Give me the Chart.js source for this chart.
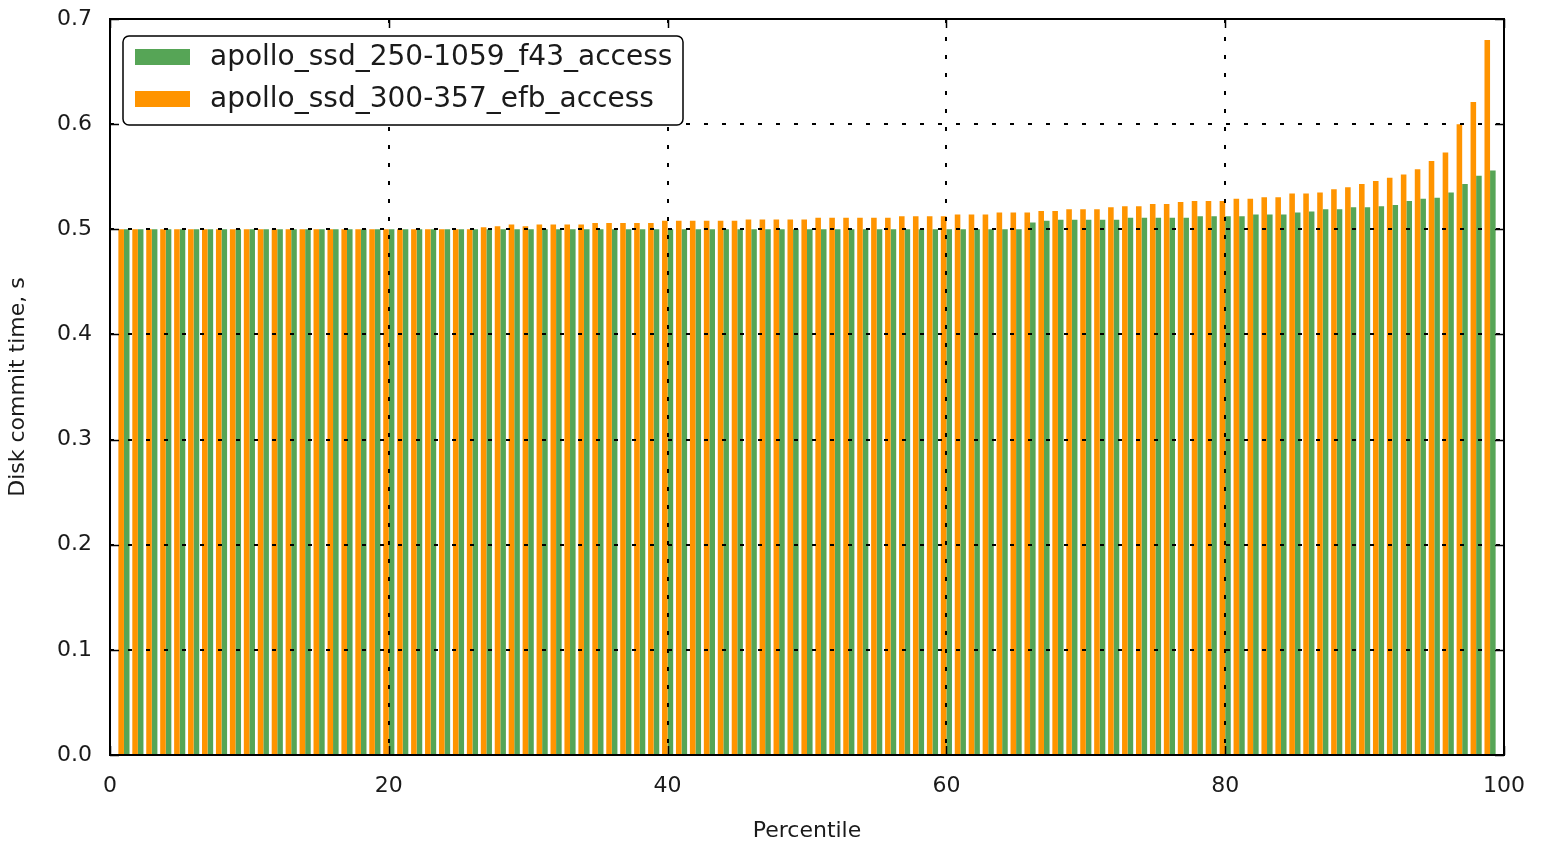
<!DOCTYPE html>
<html>
<head>
<meta charset="utf-8">
<script src="https://cdn.jsdelivr.net/npm/chart.js@4.4.0/dist/chart.umd.min.js"></script>
<style>
  html, body { margin: 0; padding: 0; background: #fff; }
  canvas { display: block; }
</style>
</head>
<body>
<canvas id="commit-chart" width="1545" height="847"></canvas>
<script>
// Percentile buckets
const percentiles = [
  1, 2, 3, 4, 5, 6, 7, 8, 9, 10,
  11, 12, 13, 14, 15, 16, 17, 18, 19, 20,
  21, 22, 23, 24, 25, 26, 27, 28, 29, 30,
  31, 32, 33, 34, 35, 36, 37, 38, 39, 40,
  41, 42, 43, 44, 45, 46, 47, 48, 49, 50,
  51, 52, 53, 54, 55, 56, 57, 58, 59, 60,
  61, 62, 63, 64, 65, 66, 67, 68, 69, 70,
  71, 72, 73, 74, 75, 76, 77, 78, 79, 80,
  81, 82, 83, 84, 85, 86, 87, 88, 89, 90,
  91, 92, 93, 94, 95, 96, 97, 98, 99
];

// apollo_ssd_250-1059_f43_access
const greenValues = [
  0.500, 0.500, 0.500, 0.500, 0.500, 0.500, 0.500, 0.500, 0.500, 0.500,
  0.500, 0.500, 0.500, 0.500, 0.500, 0.500, 0.500, 0.500, 0.500, 0.500,
  0.500, 0.500, 0.500, 0.500, 0.500, 0.500, 0.500, 0.500, 0.500, 0.500,
  0.500, 0.500, 0.500, 0.500, 0.500, 0.500, 0.500, 0.500, 0.500, 0.500,
  0.500, 0.500, 0.500, 0.500, 0.500, 0.500, 0.500, 0.500, 0.500, 0.500,
  0.500, 0.500, 0.500, 0.500, 0.500, 0.500, 0.500, 0.500, 0.500, 0.500,
  0.500, 0.500, 0.500, 0.500, 0.500, 0.5065, 0.508, 0.509, 0.509, 0.509,
  0.509, 0.509, 0.511, 0.511, 0.511, 0.511, 0.511, 0.5125, 0.5125, 0.5125,
  0.5125, 0.514, 0.514, 0.514, 0.516, 0.517, 0.519, 0.519, 0.521, 0.521,
  0.522, 0.523, 0.527, 0.529, 0.530, 0.535, 0.543, 0.551, 0.556
];

// apollo_ssd_300-357_efb_access
const orangeValues = [
  0.500, 0.500, 0.500, 0.500, 0.500, 0.500, 0.500, 0.500, 0.500, 0.500,
  0.500, 0.500, 0.500, 0.500, 0.500, 0.500, 0.500, 0.500, 0.500, 0.500,
  0.500, 0.500, 0.500, 0.500, 0.500, 0.500, 0.502, 0.503, 0.5046, 0.503,
  0.5046, 0.5046, 0.5046, 0.5046, 0.506, 0.506, 0.506, 0.506, 0.506, 0.508,
  0.508, 0.508, 0.508, 0.508, 0.508, 0.5094, 0.5094, 0.5094, 0.5094, 0.5094,
  0.511, 0.511, 0.511, 0.511, 0.511, 0.511, 0.5125, 0.5125, 0.5125, 0.5125,
  0.514, 0.514, 0.514, 0.516, 0.516, 0.516, 0.5175, 0.5175, 0.519, 0.519,
  0.519, 0.521, 0.522, 0.522, 0.524, 0.524, 0.526, 0.527, 0.527, 0.527,
  0.529, 0.529, 0.5305, 0.5305, 0.534, 0.534, 0.535, 0.538, 0.540, 0.543,
  0.546, 0.549, 0.552, 0.557, 0.565, 0.573, 0.600, 0.621, 0.680
];

const yTicks = [0.0, 0.1, 0.2, 0.3, 0.4, 0.5, 0.6, 0.7];
const xTicks = [0, 20, 40, 60, 80, 100];

const greenColor = '#56a556';
const orangeColor = '#ff9400';
const fontFamily = "'DejaVu Sans', sans-serif";

// frame, inward ticks and boxed legend like the old matplotlib look
const framePlugin = {
  id: 'frame',
  afterDraw(chart) {
    const ctx = chart.ctx;
    const area = chart.chartArea;
    const xs = chart.scales.x;
    const ys = chart.scales.y;
    const tickLen = 9;

    ctx.save();
    ctx.strokeStyle = '#000';
    ctx.lineWidth = 1.5;
    ctx.beginPath();
    yTicks.forEach(v => {
      const py = Math.round(ys.getPixelForValue(v)) + 0.5;
      ctx.moveTo(area.left, py); ctx.lineTo(area.left + tickLen, py);
      ctx.moveTo(area.right, py); ctx.lineTo(area.right - tickLen, py);
    });
    xTicks.forEach(v => {
      const px = Math.round(xs.getPixelForValue(v)) + 0.5;
      ctx.moveTo(px, area.bottom); ctx.lineTo(px, area.bottom - tickLen);
      ctx.moveTo(px, area.top); ctx.lineTo(px, area.top + tickLen);
    });
    ctx.stroke();

    ctx.lineWidth = 2;
    ctx.strokeRect(area.left, area.top, area.right - area.left, area.bottom - area.top);

    // legend box
    const lx = area.left + 13, ly = area.top + 17, lw = 560, lh = 89;
    ctx.beginPath();
    ctx.roundRect(lx, ly, lw, lh, 6);
    ctx.fillStyle = '#fff';
    ctx.fill();
    ctx.lineWidth = 1.5;
    ctx.stroke();

    const order = [1, 0];
    ctx.font = '28px ' + fontFamily;
    ctx.textBaseline = 'middle';
    order.forEach((di, row) => {
      const ds = chart.data.datasets[di];
      const cy = ly + 21 + row * 42;
      ctx.fillStyle = ds.backgroundColor;
      ctx.fillRect(lx + 12, cy - 8, 55, 16);
      ctx.fillStyle = '#1a1a1a';
      ctx.fillText(ds.label, lx + 87, cy + 1);
    });
    ctx.restore();
  }
};

const commitCanvas = document.getElementById('commit-chart');

const commitData = {
  datasets: [{
    label: 'apollo_ssd_300-357_efb_access',
    data: percentiles.map((p, i) => ({ x: p, y: orangeValues[i] })),
    backgroundColor: orangeColor,
    borderWidth: 0
  }, {
    label: 'apollo_ssd_250-1059_f43_access',
    data: percentiles.map((p, i) => ({ x: p, y: greenValues[i] })),
    backgroundColor: greenColor,
    borderWidth: 0
  }]
};

const commitOptions = {
  responsive: false,
  animation: false,
  categoryPercentage: 0.8,
  barPercentage: 1.0,
  layout: {
    padding: { left: 0, top: 19, right: 41, bottom: 0 }
  },
  scales: {
    x: {
      type: 'linear',
      min: 0,
      max: 100,
      offset: false,
      afterFit: s => { s.height = 92; s.paddingLeft = 0; s.paddingRight = 0; },
      afterBuildTicks: s => { s.ticks = xTicks.map(v => ({ value: v })); },
      grid: {
        offset: false,
        z: 1,
        color: ctx => (ctx.tick && (ctx.tick.value === 0 || ctx.tick.value === 100)) ? 'rgba(0,0,0,0)' : '#000',
        lineWidth: 2,
        drawTicks: false
      },
      border: { display: false, dash: [4, 14] },
      ticks: {
        padding: 18,
        color: '#1a1a1a',
        font: { family: fontFamily, size: 22 },
        maxRotation: 0
      },
      title: {
        display: true,
        text: 'Percentile',
        color: '#1a1a1a',
        font: { family: fontFamily, size: 22 },
        padding: { top: 0, bottom: 3 }
      }
    },
    y: {
      min: 0,
      max: 0.7,
      afterFit: s => { s.width = 110; s.paddingTop = 0; s.paddingBottom = 0; },
      afterBuildTicks: s => { s.ticks = yTicks.map(v => ({ value: v })); },
      grid: {
        z: 1,
        color: ctx => (ctx.tick && (ctx.tick.value === 0 || Math.abs(ctx.tick.value - 0.7) < 1e-9)) ? 'rgba(0,0,0,0)' : '#000',
        lineWidth: 2,
        drawTicks: false
      },
      border: { display: false, dash: [4, 14] },
      ticks: {
        padding: 18,
        color: '#1a1a1a',
        font: { family: fontFamily, size: 22 },
        callback: v => v.toFixed(1)
      },
      title: {
        display: true,
        text: 'Disk commit time, s',
        color: '#1a1a1a',
        font: { family: fontFamily, size: 22 },
        padding: { top: 5, bottom: 0 }
      }
    }
  },
  plugins: {
    legend: { display: false },
    tooltip: { enabled: false }
  }
};

let commitChart = new Chart(commitCanvas, {
  type: 'bar',
  data: commitData,
  options: commitOptions,
  plugins: [framePlugin]
});
</script>
</body>
</html>
